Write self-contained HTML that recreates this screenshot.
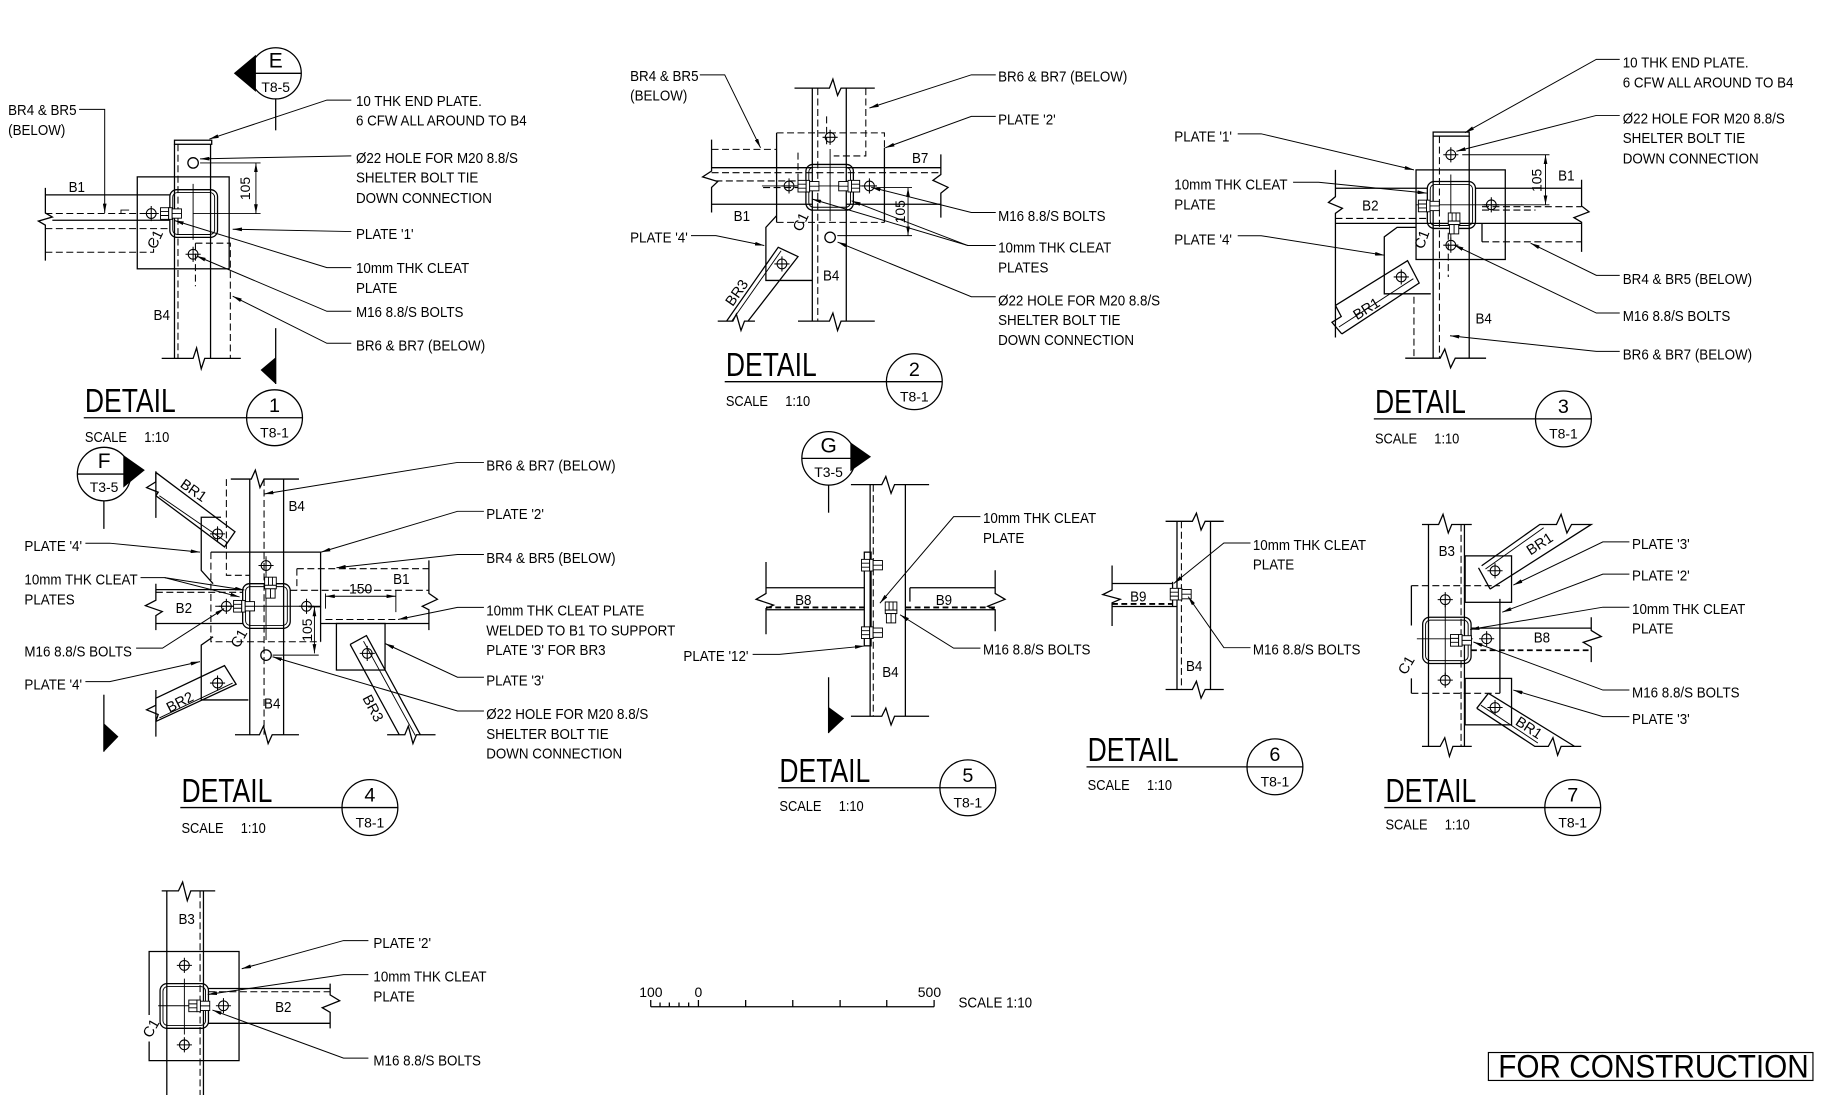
<!DOCTYPE html>
<html><head><meta charset="utf-8"><style>
html,body{margin:0;padding:0;background:#fff}
svg{display:block}
.s{fill:none;stroke:#000;stroke-width:1.1}
.t{fill:none;stroke:#000;stroke-width:.8}
.d{fill:none;stroke:#000;stroke-width:.9;stroke-dasharray:6 3}
.dk{fill:none;stroke:#000;stroke-width:1.6;stroke-dasharray:5 3}
.ld{fill:none;stroke:#000;stroke-width:.85}
text{font-family:"Liberation Sans",Arial,sans-serif;fill:#000}
.l{font-size:12.5px;transform-box:fill-box;transform-origin:0 50%;transform:scaleX(.92)}
.dt{font-size:28.5px;transform-box:fill-box;transform-origin:0 50%;transform:scaleX(.8)}
.sc{font-size:13px;transform-box:fill-box;transform-origin:0 50%;transform:scaleX(.85)}
.m{font-size:12px;text-anchor:middle}
.n{font-size:17px;text-anchor:middle}
.bg{font-size:18px;text-anchor:middle}
.r{font-size:12.5px;text-anchor:middle;dominant-baseline:central}
.fc{font-size:27.5px;transform-box:fill-box;transform-origin:0 50%;transform:scaleX(.93)}
</style></head><body>
<svg width="1824" height="1095" viewBox="0 0 1568 941" preserveAspectRatio="none" xmlns="http://www.w3.org/2000/svg">
<defs>
<marker id="a" viewBox="0 0 10 4" refX="10" refY="2" markerWidth="8" markerHeight="3.2" markerUnits="userSpaceOnUse" orient="auto-start-reverse"><path d="M0,0L10,2L0,4z" fill="#000"/></marker>
<g id="bc" fill="none" stroke="#000" stroke-width=".9"><circle r="4.2"/><path d="M-6.5,0H6.5M0,-6.5V6.5"/></g>
<g id="hb" fill="#fff" stroke="#000" stroke-width=".8"><rect x="-9" y="-5" width="7" height="10"/><rect x="-2" y="-5" width="3" height="10"/><rect x="1" y="-4" width="8" height="8"/><path d="M-9,-1.7H-2M-9,1.7H-2M1,0H9"/></g>
<g id="hbv"><use href="#hb" transform="rotate(90)"/></g>
</defs>
<rect width="1568" height="941" fill="#fff"/>

<!-- ============ DETAIL 1 ============ -->
<polygon points="201,63 220,47 220,79" fill="#000"/>
<circle cx="237" cy="63" r="22" fill="#fff" class="s"/>
<line class="s" x1="215" y1="63" x2="259" y2="63"/>
<text class="bg" x="237" y="58">E</text>
<text class="m" x="237" y="79">T8-5</text>
<line class="s" x1="237" y1="85" x2="237" y2="112"/>
<line class="s" x1="237" y1="282" x2="237" y2="330"/>
<polygon points="237,307 224,318 237,330" fill="#000"/>

<path class="s" d="M150,124V308M181,124V308"/>
<rect class="s" x="150" y="120.5" width="32" height="3.5"/>
<path class="d" d="M153,124V308"/>
<path class="s" d="M139,308H166L169,299L173,317L176,308H207"/>
<path class="d" d="M168,209V246M168,209H198V308"/>
<rect class="s" x="118" y="152" width="79" height="79"/>
<rect class="s" x="146" y="163" width="41" height="41" rx="6"/>
<rect class="t" x="148.5" y="165.5" width="36" height="36" rx="4"/>
<path class="t" d="M166,158V206M166,183.5H224"/>
<circle class="s" cx="166" cy="140" r="4.5"/>
<path class="t" d="M172,140H224"/>
<line class="t" x1="220" y1="140" x2="220" y2="183.5" marker-start="url(#a)" marker-end="url(#a)"/>
<text class="m" transform="translate(215,162) rotate(-90)">105</text>
<path class="s" d="M39,167.5H146"/>
<path class="s" d="M39,161.5V183L45,186.5L33,190L39,193.5V224"/>
<path class="d" d="M39,183.5H146"/>
<path class="s" d="M45,189.3H146"/>
<path class="d" d="M39,196.5H146"/>
<path class="d" d="M39,216.8H132V205"/>
<path class="t" d="M104,183.5V180.5H111"/>
<use href="#bc" x="130" y="183.5"/>
<use href="#hb" x="147" y="183.5"/>
<use href="#bc" x="166" y="218.5"/>

<polyline class="ld" points="302,86 281,86 180,119.5" marker-end="url(#a)"/>
<polyline class="ld" points="302,134 172,136.5" marker-end="url(#a)"/>
<polyline class="ld" points="302,199 200,197" marker-end="url(#a)"/>
<polyline class="ld" points="302,230 281,230 150,189.5" marker-end="url(#a)"/>
<polyline class="ld" points="302,267.5 281,267.5 169,220" marker-end="url(#a)"/>
<polyline class="ld" points="302,295 281,295 200,254.5" marker-end="url(#a)"/>
<polyline class="ld" points="68,94 90,94 90,183" marker-end="url(#a)"/>

<text class="l" x="306" y="91">10 THK END PLATE.</text>
<text class="l" x="306" y="108">6 CFW ALL AROUND TO B4</text>
<text class="l" x="306" y="140">Ø22 HOLE FOR M20 8.8/S</text>
<text class="l" x="306" y="157">SHELTER BOLT TIE</text>
<text class="l" x="306" y="174.5">DOWN CONNECTION</text>
<text class="l" x="306" y="205.5">PLATE '1'</text>
<text class="l" x="306" y="234.5">10mm THK CLEAT</text>
<text class="l" x="306" y="252">PLATE</text>
<text class="l" x="306" y="272.5">M16 8.8/S BOLTS</text>
<text class="l" x="306" y="301">BR6 &amp; BR7 (BELOW)</text>
<text class="l" x="7" y="99">BR4 &amp; BR5</text>
<text class="l" x="7" y="116">(BELOW)</text>
<text class="l" x="59" y="165">B1</text>
<text class="l" x="132" y="275">B4</text>
<text class="r" transform="translate(134,206) rotate(-65)">C1</text>

<text class="dt" x="73" y="354">DETAIL</text>
<line class="s" x1="72" y1="359" x2="260" y2="359"/>
<circle class="s" cx="236" cy="359" r="24"/>
<text class="n" x="236" y="354">1</text>
<text class="m" x="236" y="376">T8-1</text>
<text class="sc" x="73" y="380">SCALE</text><text class="sc" x="124" y="380">1:10</text>

<!-- ============ DETAIL 2 ============ -->
<path class="s" d="M698.3,75.7V276M727.5,75.7V276"/>
<path class="s" d="M683,75.7H713L716,68L720,82L723,75.7H752"/>
<path class="s" d="M686,276H713L716,269L720,284L723,276H752"/>
<path class="d" d="M703,75.7V276"/>
<path class="d" d="M744.3,75.7V134H716.7M710.6,100V127"/>
<path class="d" d="M667.6,114.2H760.3V127"/>
<path class="s" d="M667.6,114.2V191.1M760.3,127V191.1"/>
<path class="d" d="M667.6,191.1H760.3"/>
<path class="s" d="M611.7,144.1H698.3M611.7,175.5H698.3"/>
<path class="s" d="M611.7,120V147L604,152L617,156L611.7,161V182.6"/>
<path class="d" d="M611.7,148.4H808.8"/>
<path class="d" d="M615,155.5H686M656,161.2H686V128.4M611.7,128.4H667.6"/>
<path class="s" d="M727.5,144.1H808.8M727.5,175.5H808.8"/>
<path class="s" d="M808.8,132.7V150L802,155L815,161L808.8,166V187"/>
<rect class="s" x="692.8" y="141.3" width="40.8" height="39.3" rx="6"/>
<rect class="t" x="695.3" y="143.8" width="35.8" height="34.3" rx="4"/>
<path class="t" d="M655,159.8H753.5M713.6,128V190"/>
<use href="#bc" x="678.3" y="159.8"/>
<use href="#hb" x="695" y="160"/>
<use href="#hb" x="730" y="160" transform="rotate(180 730 160)"/>
<use href="#bc" x="747.4" y="159.8"/>
<use href="#bc" x="713.6" y="118"/>
<circle class="s" cx="713.6" cy="204" r="4.5"/>
<path class="t" d="M753.5,161.2H784M719.8,202.5H784"/>
<line class="t" x1="780.6" y1="161.2" x2="780.6" y2="202.5" marker-start="url(#a)" marker-end="url(#a)"/>
<text class="m" transform="translate(778,182) rotate(-90)">105</text>
<path class="s" d="M667.6,185.4L658.4,195.4V241H698.3"/>
<path class="s" d="M624.6,276L669,212.5L686,220.5L643,276"/>
<path class="t" d="M629,276L671.5,215.5"/>
<use href="#bc" x="672.2" y="226.8"/>
<path class="s" d="M617,276H630L633,270L637,284L640,276H649"/>

<polyline class="ld" points="601.6,64.3 623,64.3 653.8,127" marker-end="url(#a)"/>
<polyline class="ld" points="856,64.3 835,64.3 747.4,92.8" marker-end="url(#a)"/>
<polyline class="ld" points="856,100 835,100 761,127" marker-end="url(#a)"/>
<polyline class="ld" points="856,182.6 835,182.6 749,161" marker-end="url(#a)"/>
<polyline class="ld" points="856,211 832,211 698,171" marker-end="url(#a)"/>
<polyline class="ld" points="832,211 732,172.6" marker-end="url(#a)"/>
<polyline class="ld" points="856,255 835,255 720,208" marker-end="url(#a)"/>
<polyline class="ld" points="594,202.5 615.4,202.5 657,211" marker-end="url(#a)"/>

<text class="l" x="541.7" y="69.5">BR4 &amp; BR5</text>
<text class="l" x="541.7" y="86.5">(BELOW)</text>
<text class="l" x="541.7" y="208.5">PLATE '4'</text>
<text class="l" x="858" y="70">BR6 &amp; BR7 (BELOW)</text>
<text class="l" x="858" y="107">PLATE '2'</text>
<text class="l" x="858" y="190">M16 8.8/S BOLTS</text>
<text class="l" x="858" y="217">10mm THK CLEAT</text>
<text class="l" x="858" y="234">PLATES</text>
<text class="l" x="858" y="262.5">Ø22 HOLE FOR M20 8.8/S</text>
<text class="l" x="858" y="279.5">SHELTER BOLT TIE</text>
<text class="l" x="858" y="296.5">DOWN CONNECTION</text>
<text class="l" x="630.7" y="190">B1</text>
<text class="l" x="784" y="140">B7</text>
<text class="l" x="707.5" y="241">B4</text>
<text class="r" transform="translate(689,191) rotate(-65)">C1</text>
<text class="r" transform="translate(634,252) rotate(-55)">BR3</text>

<text class="dt" x="624" y="323">DETAIL</text>
<line class="s" x1="623" y1="328" x2="810" y2="328"/>
<circle class="s" cx="786" cy="328" r="24"/>
<text class="n" x="786" y="323">2</text>
<text class="m" x="786" y="345">T8-1</text>
<text class="sc" x="624" y="349">SCALE</text><text class="sc" x="675" y="349">1:10</text>

<!-- ============ DETAIL 3 ============ -->
<path class="s" d="M1232,117V307.8M1263,117V307.8"/>
<rect class="s" x="1232" y="113.5" width="31" height="3.5"/>
<path class="s" d="M1208,307.8H1238L1242,300L1247,316L1251,307.8H1277.5"/>
<path class="d" d="M1237.4,117V307.8M1245,200V238M1215.5,255V307.8"/>
<rect class="s" x="1217.3" y="146" width="76.7" height="77"/>
<rect class="s" x="1227" y="156" width="41.4" height="40.3" rx="6"/>
<rect class="t" x="1229.5" y="158.5" width="36.4" height="35.3" rx="4"/>
<use href="#bc" x="1247.2" y="133"/>
<path class="t" d="M1257,133H1332M1274,176H1332"/>
<line class="t" x1="1328.6" y1="133" x2="1328.6" y2="176" marker-start="url(#a)" marker-end="url(#a)"/>
<text class="m" transform="translate(1325,155) rotate(-90)">105</text>
<path class="t" d="M1247.2,150V205M1217,176H1310"/>
<path class="s" d="M1268.4,161.8H1359.6M1148,192H1359.6"/>
<path class="d" d="M1274,177.6H1359.6M1274,180.5H1320"/>
<path class="s" d="M1359.6,154.5V177L1366,182L1353,187L1359.6,191V216.5"/>
<path class="d" d="M1274,207.8H1359.6"/>
<path class="s" d="M1274,192V207.8"/>
<path class="s" d="M1148,161.8H1227"/>
<path class="d" d="M1148,187.7H1227"/>
<path class="s" d="M1148,146V169L1142,174L1154,179L1148,183.3V290"/>
<use href="#hb" x="1228.3" y="177"/>
<use href="#bc" x="1282" y="176"/>
<use href="#hbv" x="1250" y="192"/>
<use href="#bc" x="1247.2" y="210.7"/>
<path class="s" d="M1217,195.4H1201L1190,203.5V252.5H1230"/>
<path class="s" d="M1148,262.5L1210,224L1220,243.2L1153.5,287"/>
<path class="s" d="M1148,262.5L1153,272L1145,277L1153.5,287"/>
<path class="t" d="M1151,281L1215,239.5"/>
<use href="#bc" x="1204.6" y="238"/>

<polyline class="ld" points="1392.4,51 1372.3,51 1259.3,114" marker-end="url(#a)"/>
<polyline class="ld" points="1392.4,99.2 1372.3,99.2 1252,130" marker-end="url(#a)"/>
<polyline class="ld" points="1064,115 1084.2,115 1215.5,146" marker-end="url(#a)"/>
<polyline class="ld" points="1111.6,156.6 1133.5,156.6 1226.5,166" marker-end="url(#a)"/>
<polyline class="ld" points="1064,202.6 1084.2,202.6 1190,219.3" marker-end="url(#a)"/>
<polyline class="ld" points="1392.4,236.6 1372.3,236.6 1315.8,209" marker-end="url(#a)"/>
<polyline class="ld" points="1392.4,269 1372.3,269 1250.2,210.7" marker-end="url(#a)"/>
<polyline class="ld" points="1392.4,302 1372.3,302 1246.5,288.5" marker-end="url(#a)"/>

<text class="l" x="1395" y="58">10 THK END PLATE.</text>
<text class="l" x="1395" y="75">6 CFW ALL AROUND TO B4</text>
<text class="l" x="1395" y="106">Ø22 HOLE FOR M20 8.8/S</text>
<text class="l" x="1395" y="123">SHELTER BOLT TIE</text>
<text class="l" x="1395" y="140.5">DOWN CONNECTION</text>
<text class="l" x="1395" y="244">BR4 &amp; BR5 (BELOW)</text>
<text class="l" x="1395" y="276">M16 8.8/S BOLTS</text>
<text class="l" x="1395" y="309">BR6 &amp; BR7 (BELOW)</text>
<text class="l" x="1009.5" y="121.5">PLATE '1'</text>
<text class="l" x="1009.5" y="163">10mm THK CLEAT</text>
<text class="l" x="1009.5" y="180">PLATE</text>
<text class="l" x="1009.5" y="210">PLATE '4'</text>
<text class="l" x="1339.5" y="155">B1</text>
<text class="l" x="1171" y="181">B2</text>
<text class="l" x="1268.4" y="278">B4</text>
<text class="r" transform="translate(1223,206) rotate(-70)">C1</text>
<text class="r" transform="translate(1175,266) rotate(-32)">BR1</text>

<text class="dt" x="1182" y="355">DETAIL</text>
<line class="s" x1="1181" y1="360" x2="1368" y2="360"/>
<circle class="s" cx="1344" cy="360" r="24"/>
<text class="n" x="1344" y="355">3</text>
<text class="m" x="1344" y="377">T8-1</text>
<text class="sc" x="1182" y="381">SCALE</text><text class="sc" x="1233" y="381">1:10</text>

<!-- ============ DETAIL 4 ============ -->
<polygon points="124.5,404 106,391 106,419" fill="#000"/>
<circle cx="89.5" cy="407.4" r="23" fill="#fff" class="s"/>
<line class="s" x1="66.5" y1="407.4" x2="112.5" y2="407.4"/>
<text class="bg" x="89.5" y="402">F</text>
<text class="m" x="89.5" y="423">T3-5</text>
<line class="s" x1="89.3" y1="430.4" x2="89.3" y2="454.5"/>
<line class="s" x1="89.3" y1="597" x2="89.3" y2="646"/>
<polygon points="89.3,621.5 101.8,633 89.3,646" fill="#000"/>

<path class="s" d="M214.7,411.7V631.4M243.8,411.7V631.4"/>
<path class="s" d="M198.4,411.7H216L219.5,404L223.5,419L227,411.7H257"/>
<path class="s" d="M202,631.4H223L226.5,624L230.5,639L234,631.4H257"/>
<path class="d" d="M227,411.7V631.4M194.6,411.7V494.4H214.7"/>
<path class="s" d="M181.3,474.5H275.6V551.5"/>
<path class="d" d="M181.3,474.5V551.5H275.6"/>
<path class="s" d="M134,506.7H208.6M134,535.8H208.6"/>
<path class="d" d="M134,509H208.6"/>
<path class="s" d="M134,501.6V515.8L125,520.5L139.5,525.5L134,529V541.5"/>
<path class="d" d="M255.2,488.7H368.7M255.2,488.7V507.3M249.5,507.3H368.7"/>
<path class="s" d="M275.6,535.8H368.7"/>
<path class="d" d="M279.8,532.4H342.2"/>
<path class="s" d="M368.7,481.6V510L376,515L363,521L368.7,524V541.5"/>
<rect class="s" x="208.6" y="501.6" width="40.9" height="38.4" rx="6"/>
<rect class="t" x="211.1" y="504.1" width="35.9" height="33.4" rx="4"/>
<path class="t" d="M228.7,478V550M185,521H276"/>
<use href="#bc" x="194.6" y="521"/>
<use href="#hb" x="209.8" y="521"/>
<use href="#hbv" x="232.5" y="505"/>
<use href="#bc" x="228.7" y="486"/>
<use href="#bc" x="263.5" y="521"/>
<circle class="s" cx="228.7" cy="563" r="4.5"/>
<path class="t" d="M265,521.6H276M234.3,563H274"/>
<line class="t" x1="270.3" y1="521.6" x2="270.3" y2="561.5" marker-start="url(#a)" marker-end="url(#a)"/>
<text class="m" transform="translate(268,541.5) rotate(-90)">105</text>
<path class="t" d="M279.8,510V523M340.3,507V526"/>
<line class="t" x1="279.8" y1="512.4" x2="340.3" y2="512.4" marker-start="url(#a)" marker-end="url(#a)"/>
<text class="m" x="310" y="510">150</text>
<path class="s" d="M190,444.5H173V490.2L183.2,501.6"/>
<path class="s" d="M183.2,547.2L173,554.4V601.5H213.5"/>
<!-- BR1 -->
<path class="s" d="M134,406L202,457L193,470L134,426"/>
<path class="s" d="M134,406V414L126,419L136,423L134,426"/>
<path class="s" d="M134,405V445M134,593V633"/>
<path class="t" d="M137,426L195,466"/>
<use href="#bc" x="187" y="458.8"/>
<!-- BR2 -->
<path class="s" d="M134,600L193,572L203,588L134,620"/>
<path class="s" d="M134,600V606L126,610L136,614L134,620"/>
<path class="t" d="M137,617L200,587"/>
<use href="#bc" x="187" y="587"/>
<!-- BR3 -->
<rect class="s" x="289.2" y="535.8" width="41.8" height="40"/>
<path class="s" d="M301,553.8L315,546.2L361.3,631.4M301,553.8L343.2,631.4"/>
<path class="t" d="M312.5,551L357,632"/>
<path class="s" d="M332.8,631.4H348L351,624L355,639L358,631.4H374.4"/>
<use href="#bc" x="315.7" y="561.5"/>

<polyline class="ld" points="416,397.4 393.3,397.4 227,424.5" marker-end="url(#a)"/>
<polyline class="ld" points="416,439.4 393.3,439.4 276,474.5" marker-end="url(#a)"/>
<polyline class="ld" points="416,476.5 393.3,476.5 289.2,487.9" marker-end="url(#a)"/>
<polyline class="ld" points="416,522 393.3,522 342.2,532.4" marker-end="url(#a)"/>
<polyline class="ld" points="416,582 393.3,582 331,553" marker-end="url(#a)"/>
<polyline class="ld" points="416,611 393.3,611 234.3,564.4" marker-end="url(#a)"/>
<polyline class="ld" points="73.4,466.8 94.3,466.8 171.9,474.5" marker-end="url(#a)"/>
<polyline class="ld" points="120.8,496.4 141.6,496.4 210,507" marker-end="url(#a)"/>
<polyline class="ld" points="141.6,496.4 206,513" marker-end="url(#a)"/>
<polyline class="ld" points="117,557 139.7,557 192.7,523" marker-end="url(#a)"/>
<polyline class="ld" points="73.4,585.8 94.3,585.8 171.9,568.6" marker-end="url(#a)"/>

<text class="l" x="418" y="404.5">BR6 &amp; BR7 (BELOW)</text>
<text class="l" x="418" y="446">PLATE '2'</text>
<text class="l" x="418" y="484">BR4 &amp; BR5 (BELOW)</text>
<text class="l" x="418" y="529">10mm THK CLEAT PLATE</text>
<text class="l" x="418" y="546">WELDED TO B1 TO SUPPORT</text>
<text class="l" x="418" y="563">PLATE '3' FOR BR3</text>
<text class="l" x="418" y="589">PLATE '3'</text>
<text class="l" x="418" y="618">Ø22 HOLE FOR M20 8.8/S</text>
<text class="l" x="418" y="635">SHELTER BOLT TIE</text>
<text class="l" x="418" y="652">DOWN CONNECTION</text>
<text class="l" x="21" y="473.5">PLATE '4'</text>
<text class="l" x="21" y="502.5">10mm THK CLEAT</text>
<text class="l" x="21" y="519.5">PLATES</text>
<text class="l" x="21" y="564">M16 8.8/S BOLTS</text>
<text class="l" x="21" y="592.5">PLATE '4'</text>
<text class="l" x="248" y="439">B4</text>
<text class="l" x="227" y="609">B4</text>
<text class="l" x="151" y="527">B2</text>
<text class="l" x="338" y="502">B1</text>
<text class="r" transform="translate(206,549) rotate(-60)">C1</text>
<text class="r" transform="translate(166,422) rotate(35)">BR1</text>
<text class="r" transform="translate(155,604) rotate(-27)">BR2</text>
<text class="r" transform="translate(320,609) rotate(62)">BR3</text>

<text class="dt" x="156" y="689">DETAIL</text>
<line class="s" x1="155" y1="694" x2="342" y2="694"/>
<circle class="s" cx="318" cy="694" r="24"/>
<text class="n" x="318" y="689">4</text>
<text class="m" x="318" y="711">T8-1</text>
<text class="sc" x="156" y="716">SCALE</text><text class="sc" x="207" y="716">1:10</text>

<!-- ============ DETAIL 5 ============ -->
<polygon points="748.8,392.5 731,380 731,405" fill="#000"/>
<circle cx="712.3" cy="393.9" r="23" fill="#fff" class="s"/>
<line class="s" x1="689.3" y1="393.9" x2="735.3" y2="393.9"/>
<text class="bg" x="712.3" y="389">G</text>
<text class="m" x="712.3" y="410">T3-5</text>
<line class="s" x1="712.3" y1="416.9" x2="712.3" y2="440.6"/>
<line class="s" x1="712.3" y1="582" x2="712.3" y2="630"/>
<polygon points="712.3,607.6 725.7,617.5 712.3,630" fill="#000"/>

<path class="s" d="M748,416.5V615.5M778.3,416.5V615.5"/>
<path class="s" d="M731.5,416.5H758L761.5,409.5L766,424L769,416.5H798.7"/>
<path class="s" d="M731.5,615.5H758L761.5,608.5L766,623L769,615.5H798.7"/>
<path class="d" d="M750.7,416.5V615.5"/>
<rect class="s" x="743" y="474.5" width="5.8" height="80.5"/>
<path class="s" d="M658.5,505.1H743M658.5,524H743"/>
<path class="dk" d="M658.5,522H743"/>
<path class="s" d="M658.5,483V510L650,515L665,520L658.5,523V545"/>
<path class="s" d="M782.2,505.1H855.5M778.3,524H855.5M782.2,505.1V517"/>
<path class="dk" d="M778.3,522H855.5"/>
<path class="s" d="M855.5,490V510L864,515L849,521L855.5,524V542.5"/>
<use href="#hb" x="749.6" y="485.7"/>
<use href="#hb" x="749.6" y="543.7"/>
<use href="#hbv" x="766" y="526.3"/>

<polyline class="ld" points="842.8,444 819.8,444 756.4,518.4" marker-end="url(#a)"/>
<polyline class="ld" points="842.8,557 819.8,557 773.7,528.3" marker-end="url(#a)"/>
<polyline class="ld" points="647,562.3 670,562.3 743,555.2" marker-end="url(#a)"/>
<text class="l" x="845" y="449.5">10mm THK CLEAT</text>
<text class="l" x="845" y="466.5">PLATE</text>
<text class="l" x="845" y="562.5">M16 8.8/S BOLTS</text>
<text class="l" x="587.5" y="568">PLATE '12'</text>
<text class="l" x="683.5" y="520">B8</text>
<text class="l" x="804.4" y="520">B9</text>
<text class="l" x="758.4" y="582">B4</text>

<text class="dt" x="670" y="672">DETAIL</text>
<line class="s" x1="669" y1="677" x2="856" y2="677"/>
<circle class="s" cx="832" cy="677" r="24"/>
<text class="n" x="832" y="672">5</text>
<text class="m" x="832" y="694">T8-1</text>
<text class="sc" x="670" y="697">SCALE</text><text class="sc" x="721" y="697">1:10</text>

<!-- ============ DETAIL 6 ============ -->
<path class="s" d="M1011.8,448V592.5M1040.6,448V592.5"/>
<path class="s" d="M1002,448H1025L1028.5,441L1032.5,455.5L1036,448H1052"/>
<path class="s" d="M1002,592.5H1025L1028.5,585.5L1032.5,600L1036,592.5H1052"/>
<path class="d" d="M1015.6,448V592.5"/>
<path class="s" d="M956,501.4H1008M956,521.2H1011.8"/>
<path class="dk" d="M956,519H1008"/>
<path class="s" d="M956,486V507L948,511L963,515L956,518V538"/>
<path class="s" d="M1008,500V521"/>
<use href="#hb" x="1015" y="510.6"/>
<polyline class="ld" points="1075,466.6 1052.1,466.6 1009,501.4" marker-end="url(#a)"/>
<polyline class="ld" points="1075,556.6 1052.1,556.6 1021.4,512.7" marker-end="url(#a)"/>
<text class="l" x="1077" y="472.5">10mm THK CLEAT</text>
<text class="l" x="1077" y="489.5">PLATE</text>
<text class="l" x="1077" y="562.5">M16 8.8/S BOLTS</text>
<text class="l" x="971.5" y="517">B9</text>
<text class="l" x="1019.5" y="576.5">B4</text>

<text class="dt" x="935" y="654">DETAIL</text>
<line class="s" x1="934" y1="659" x2="1120" y2="659"/>
<circle class="s" cx="1096" cy="659" r="24"/>
<text class="n" x="1096" y="654">6</text>
<text class="m" x="1096" y="676">T8-1</text>
<text class="sc" x="935" y="679">SCALE</text><text class="sc" x="986" y="679">1:10</text>

<!-- ============ DETAIL 7 ============ -->
<path class="s" d="M1228,450.7V641.4M1258.9,450.7V641.4"/>
<path class="s" d="M1222.4,450.7H1236.7L1240.5,442L1245,458L1248,450.7H1265.2"/>
<path class="s" d="M1222.4,641.4H1238L1242,634L1246,650L1249,641.4H1265.2"/>
<path class="d" d="M1256,450.7V641.4"/>
<path class="d" d="M1213.3,503.3H1289.4M1213.3,595.8H1289.4"/>
<path class="s" d="M1213.3,503.3V537.5M1213.3,583V595.8M1289.4,514.7V595.8"/>
<rect class="s" x="1259.5" y="477.7" width="39.9" height="39.9"/>
<rect class="s" x="1259.5" y="583" width="39.9" height="39.9"/>
<rect class="s" x="1223" y="530.4" width="41.6" height="39.8" rx="6"/>
<rect class="t" x="1225.5" y="532.9" width="36.6" height="34.8" rx="4"/>
<path class="t" d="M1218,549H1266M1242.4,520V580"/>
<use href="#bc" x="1242.4" y="515.3"/>
<use href="#bc" x="1242.4" y="584.5"/>
<use href="#bc" x="1278" y="548.9"/>
<use href="#hb" x="1255.9" y="550.3"/>
<path class="s" d="M1264.6,539.8H1367.9"/>
<path class="dk" d="M1264.6,558.8H1367.9"/>
<path class="s" d="M1367.9,530.4V541.8L1376.5,547L1361,552L1367.9,556V569"/>
<!-- BR1 upper -->
<path class="s" d="M1273.7,486.2L1323.7,450.7H1338L1342,442L1347,458L1351,450.7H1367.9L1280.9,506.2"/>
<path class="s" d="M1271,488L1281,506.2"/>
<path class="t" d="M1277,489L1327,453.5"/>
<use href="#bc" x="1285.2" y="490.5"/>
<!-- BR1 lower -->
<path class="s" d="M1279.5,595.8L1353.6,641.4M1269.5,608.7L1319.4,641.4H1331L1335,634L1339,649L1342,641.4H1359.3"/>
<path class="s" d="M1269.5,608.7L1279.5,595.8"/>
<path class="t" d="M1273,606L1322,638.5"/>
<use href="#bc" x="1285.2" y="608"/>

<polyline class="ld" points="1400.7,465.7 1377.9,465.7 1300.9,502.8" marker-end="url(#a)"/>
<polyline class="ld" points="1400.7,493.4 1377.9,493.4 1291.4,526.1" marker-end="url(#a)"/>
<polyline class="ld" points="1400.7,521.8 1377.9,521.8 1263.8,541" marker-end="url(#a)"/>
<polyline class="ld" points="1400.7,593 1377.9,593 1266.6,551.7" marker-end="url(#a)"/>
<polyline class="ld" points="1400.7,615.8 1377.9,615.8 1300.9,593" marker-end="url(#a)"/>
<text class="l" x="1403" y="472">PLATE '3'</text>
<text class="l" x="1403" y="499">PLATE '2'</text>
<text class="l" x="1403" y="527.5">10mm THK CLEAT</text>
<text class="l" x="1403" y="544.5">PLATE</text>
<text class="l" x="1403" y="599.5">M16 8.8/S BOLTS</text>
<text class="l" x="1403" y="622">PLATE '3'</text>
<text class="l" x="1236.7" y="478">B3</text>
<text class="l" x="1318.5" y="552">B8</text>
<text class="r" transform="translate(1209.6,572) rotate(-60)">C1</text>
<text class="r" transform="translate(1324,468) rotate(-33)">BR1</text>
<text class="r" transform="translate(1314,626) rotate(33)">BR1</text>

<text class="dt" x="1191" y="689">DETAIL</text>
<line class="s" x1="1190" y1="694" x2="1376" y2="694"/>
<circle class="s" cx="1352" cy="694" r="24"/>
<text class="n" x="1352" y="689">7</text>
<text class="m" x="1352" y="711">T8-1</text>
<text class="sc" x="1191" y="713">SCALE</text><text class="sc" x="1242" y="713">1:10</text>

<!-- ============ BOTTOM DETAIL ============ -->
<path class="s" d="M143.4,765.6V941M174.9,765.6V941"/>
<path class="s" d="M139,765.6H153.4L157,758L161,774L164,765.6H185"/>
<path class="d" d="M172,765.6V941"/>
<path class="s" d="M128.2,872.3V817.7H205.5V911.5H128.2V895"/>
<rect class="s" x="137.6" y="845.3" width="41.6" height="38.4" rx="6"/>
<rect class="t" x="140.1" y="847.8" width="36.6" height="33.4" rx="4"/>
<path class="t" d="M136,864.3H180M158.5,841V889"/>
<use href="#bc" x="158.5" y="829.6"/>
<use href="#bc" x="158.5" y="897.9"/>
<use href="#bc" x="192.1" y="864.3"/>
<use href="#hb" x="171.3" y="864.4"/>
<path class="s" d="M179.2,849.5H283.8M179.2,879.4H283.8"/>
<path class="d" d="M179.2,852.3H283.8"/>
<path class="s" d="M283.8,845.3V855L292,860L277,866L283.8,870V883.7"/>
<polyline class="ld" points="316.7,808.3 295.3,808.3 207.8,832.5" marker-end="url(#a)"/>
<polyline class="ld" points="316.7,837.6 295.3,837.6 178.6,854.6" marker-end="url(#a)"/>
<polyline class="ld" points="316.7,909.3 295.3,909.3 182.6,868" marker-end="url(#a)"/>
<text class="l" x="321" y="814.5">PLATE '2'</text>
<text class="l" x="321" y="843.5">10mm THK CLEAT</text>
<text class="l" x="321" y="860.5">PLATE</text>
<text class="l" x="321" y="915.5">M16 8.8/S BOLTS</text>
<text class="l" x="153.4" y="794">B3</text>
<text class="l" x="236.5" y="869.5">B2</text>
<text class="r" transform="translate(130.5,884) rotate(-60)">C1</text>

<!-- ============ SCALE BAR ============ -->
<path class="s" d="M559.4,865.2H803M559.4,859.4V865.2M600.4,859.4V865.2M641,859.4V865.2M681.5,859.4V865.2M722.2,859.4V865.2M762.3,859.4V865.2M803,859.4V865.2M567.4,861.5V865.2M575.4,861.5V865.2M583.7,861.5V865.2M592,861.5V865.2"/>
<text class="m" x="559.5" y="857">100</text>
<text class="m" x="600.4" y="857">0</text>
<text class="m" x="799" y="857">500</text>
<text class="l" x="824" y="866">SCALE 1:10</text>

<!-- ============ FOR CONSTRUCTION ============ -->
<rect x="1279.5" y="904.5" width="279" height="24" fill="none" stroke="#000" stroke-width="1"/>
<text class="fc" x="1288" y="926">FOR CONSTRUCTION</text>
</svg>
</body></html>
